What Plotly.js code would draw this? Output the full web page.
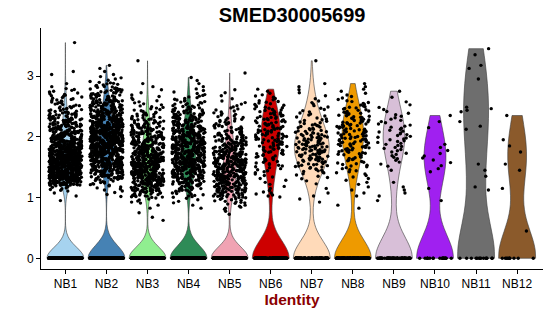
<!DOCTYPE html>
<html><head><meta charset="utf-8">
<script src="https://cdn.plot.ly/plotly-3.0.1.min.js"></script>
<style>html,body{margin:0;padding:0;background:#fff}#chart{width:550px;height:316px}</style>
</head><body><div id="chart"></div>
<script>
// Identity groups
const categories = ['NB1','NB2','NB3','NB4','NB5','NB6','NB7','NB8','NB9','NB10','NB11','NB12'];
// Expression histogram: bins of width 0.1, lower edges 0.4, 0.5, ... 3.5 (counts of cells)
const binStart = 0.4;
const binWidth = 0.1;
const countsNB1  = [0,0,0,0,0,1,2,8,60,90,100,100,95,85,70,55,45,35,28,22,16,12,10,7,2,0,2,0,0,0,0,1];
const countsNB2  = [0,0,0,0,0,0,3,6,12,30,45,60,70,78,82,80,75,68,58,48,40,32,25,18,12,5,2,2,0,0,0,0];
const countsNB3  = [0,0,2,1,2,6,20,35,45,52,55,55,52,48,42,36,30,24,18,13,9,6,4,2,2,0,0,0,1,0,0,0];
const countsNB4  = [0,0,0,0,2,4,10,18,28,38,46,52,55,55,52,48,42,36,30,24,18,12,8,4,2,2,0,0,0,0,0,0];
const countsNB5  = [0,0,0,2,6,12,22,32,40,44,45,44,40,34,28,22,18,14,11,8,6,4,2,2,0,0,1,0,0,0,0,0];
const countsNB6  = [0,0,0,0,0,0,6,3,3,4,6,8,10,12,14,15,15,14,14,13,11,8,5,3,0,0,0,0,0,0,0,0];
const countsNB7  = [0,0,0,0,0,2,2,1,2,5,9,14,18,20,20,17,14,11,8,6,5,4,2,2,2,0,0,0,1,0,0,0];
const countsNB8  = [0,0,0,0,2,0,2,2,3,4,6,8,10,12,14,15,15,15,14,12,10,7,4,3,2,0,0,0,0,0,0,0];
const countsNB9  = [0,0,0,0,0,1,2,2,1,0,1,3,4,5,6,7,7,6,5,4,3,2,1,1,0,0,0,0,0,0,0,0];
const countsNB10 = [0,0,0,0,0,1,0,1,0,0,2,2,3,2,2,0,0,1,1,1,0,0,0,0,0,0,0,0,0,0,0,0];
const countsNB11 = [0,0,0,0,0,0,0,2,0,1,1,1,0,0,0,0,0,2,1,0,4,0,0,0,0,1,0,2,0,1,1,0];
const countsNB12 = [1,0,0,0,0,0,0,1,0,0,1,1,0,1,1,1,0,0,0,1,0,0,0,0,0,0,0,0,0,0,0,0];
// cells with zero expression per group
const zeroCounts = [900,900,700,650,550,180,110,160,70,20,14,10];
const fillColors = ['#a6d3ef','#4682b4','#90ee90','#2e8b57','#f0a3b3','#cd0000','#ffdab9','#ee9a00','#d8bfd8','#a020f0','#6e6e6e','#8b5a2b'];

const allCounts = [countsNB1,countsNB2,countsNB3,countsNB4,countsNB5,countsNB6,countsNB7,countsNB8,countsNB9,countsNB10,countsNB11,countsNB12];

function expand(counts, zeros){
  const v = [];
  for(let k=0;k<zeros;k++) v.push(0);
  counts.forEach((n,i)=>{
    const lo = binStart + binWidth*i;
    for(let k=0;k<n;k++) v.push(+(lo + binWidth*(k+0.5)/n).toFixed(4));
  });
  return v;
}
// R's bw.nrd0 (ggplot2 geom_violin default bandwidth)
function quantile7(s, p){ const h=(s.length-1)*p, lo=Math.floor(h); return s[lo] + (h-lo)*((s[Math.min(lo+1,s.length-1)])-s[lo]); }
function nrd0(v){
  const n=v.length, m=v.reduce((a,b)=>a+b,0)/n;
  const sd=Math.sqrt(v.reduce((a,b)=>a+(b-m)*(b-m),0)/(n-1));
  const s=v.slice().sort((a,b)=>a-b);
  const iqr=quantile7(s,0.75)-quantile7(s,0.25);
  let lo=Math.min(sd, iqr/1.34);
  if(!lo) lo = sd || Math.abs(s[0]) || 1;
  return 0.9*lo*Math.pow(n,-0.2);
}

// deterministic horizontal jitter for the point layer (position only, not data)
function jit(k, i){
  const s = Math.sin((k+1)*12.9898 + (i+1)*78.233) * 43758.5453;
  return s - Math.floor(s);
}
const JITTER = 0.4;
const traces = [];
const px = [], py = [];
categories.forEach((c,i)=>{
  const y = expand(allCounts[i], zeroCounts[i]);
  traces.push({
    type:'violin', name:c, x:y.map(()=>i), y:y, bandwidth:nrd0(y),
    fillcolor:fillColors[i], line:{color:'#3c3c3c', width:0.6},
    opacity:1, spanmode:'hard', scalemode:'width', width:0.9,
    points:false, box:{visible:false}, meanline:{visible:false}, hoverinfo:'skip'
  });
  y.forEach((v,k)=>{
    px.push(i + (jit(k,i)-0.5)*2*JITTER);
    py.push(v);
  });
});
traces.push({type:'scatter', mode:'markers', x:px, y:py, marker:{color:'#000', size:3.4, line:{width:0}}, hoverinfo:'skip'});

const layout = {
  width:550, height:316,
  margin:{l:41, r:7, t:28, b:47},
  paper_bgcolor:'#fff', plot_bgcolor:'#fff',
  showlegend:false, violinmode:'overlay',
  font:{family:'Liberation Sans, Arial, sans-serif', color:'#000'},
  title:{text:'<b>SMED30005699</b>', font:{size:20, color:'#000'}, x:0.531, xanchor:'center', y:0.953, yanchor:'middle', yref:'container'},
  xaxis:{type:'linear', range:[-0.594,11.63], tickvals:categories.map((c,i)=>i), ticktext:categories,
    showline:true, linecolor:'#000', linewidth:1, ticks:'outside', ticklen:4, tickcolor:'#000', tickwidth:1,
    showgrid:false, zeroline:false, tickfont:{size:12, color:'#000'},
    title:{text:'<b>Identity</b>', font:{size:15.5, color:'#8b0000'}, standoff:2}},
  yaxis:{range:[-0.176,3.79], tickvals:[0,1,2,3], ticktext:['0','1','2','3'],
    showline:true, linecolor:'#000', linewidth:1, ticks:'outside', ticklen:4, tickcolor:'#000', tickwidth:1,
    showgrid:false, zeroline:false, tickfont:{size:12, color:'#000'}}
};

Plotly.newPlot('chart', traces, layout, {displayModeBar:false, staticPlot:true});
</script>
</body></html>
